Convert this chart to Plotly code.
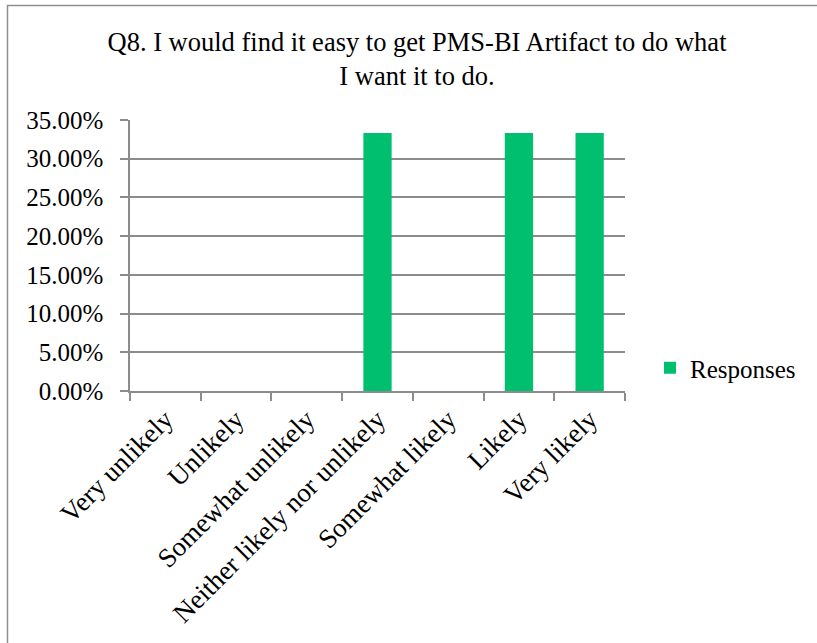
import plotly.graph_objects as go

categories = ["Very unlikely", "Unlikely", "Somewhat unlikely",
              "Neither likely nor unlikely", "Somewhat likely", "Likely", "Very likely"]
responses = [0.0, 0.0, 0.0, 0.3333, 0.0, 0.3333, 0.3333]
series_name = "Responses"
title_text = "Q8. I would find it easy to get PMS-BI Artifact to do what<br>I want it to do."

W, H = 817, 643
L, R, T, B = 130, 192, 120, 252
plot_w = W - L - R
plot_h = H - T - B

FONT = "Liberation Serif, Times New Roman, serif"
GREEN = "#00BF6F"
GRID = "#8C8C8C"

fig = go.Figure()
fig.add_trace(go.Bar(
    x=categories, y=responses, name=series_name,
    marker=dict(color=GREEN, line=dict(width=0)),
    showlegend=True,
))

# outer chart border (right and bottom edges fall outside the page)
fig.add_shape(
    type="rect", xref="paper", yref="paper",
    x0=(7.5 - L) / plot_w, x1=(W + 20 - L) / plot_w,
    y0=(H - B - (H + 20)) / plot_h, y1=(H - B - 5.5) / plot_h,
    line=dict(color="#8F8F8F", width=1.5), fillcolor="rgba(0,0,0,0)",
    layer="below",
)

fig.update_layout(
    width=W, height=H,
    margin=dict(l=L, r=R, t=T, b=B, autoexpand=False),
    paper_bgcolor="white", plot_bgcolor="white",
    font=dict(family=FONT, size=25, color="black"),
    title=dict(text=title_text, x=417 / W, xanchor="center",
               y=1 - 51 / H, yanchor="middle", yref="container",
               font=dict(family=FONT, size=26.5, color="black")),
    bargap=0.6,
    legend=dict(x=(650 - L) / plot_w, xanchor="left",
                y=(H - B - 368) / plot_h, yanchor="middle",
                font=dict(family=FONT, size=25, color="black"),
                bgcolor="rgba(0,0,0,0)"),
)

fig.update_xaxes(
    type="category", tickangle=-45, tickson="boundaries",
    ticks="outside", ticklen=8, tickcolor=GRID, tickwidth=1.5,
    showline=True, linecolor=GRID, linewidth=1.5,
    showgrid=False, tickfont=dict(family=FONT, size=27, color="black"),
)
fig.update_yaxes(
    range=[0, 0.35], dtick=0.05, tickformat=".2%",
    ticks="outside", ticklen=8, tickcolor=GRID, tickwidth=1.5,
    ticklabelstandoff=12,
    showline=True, linecolor=GRID, linewidth=1.5,
    showgrid=True, gridcolor=GRID, gridwidth=1.5,
    zeroline=False, tickfont=dict(family=FONT, size=25, color="black"),
)

fig.write_html("out.html")
